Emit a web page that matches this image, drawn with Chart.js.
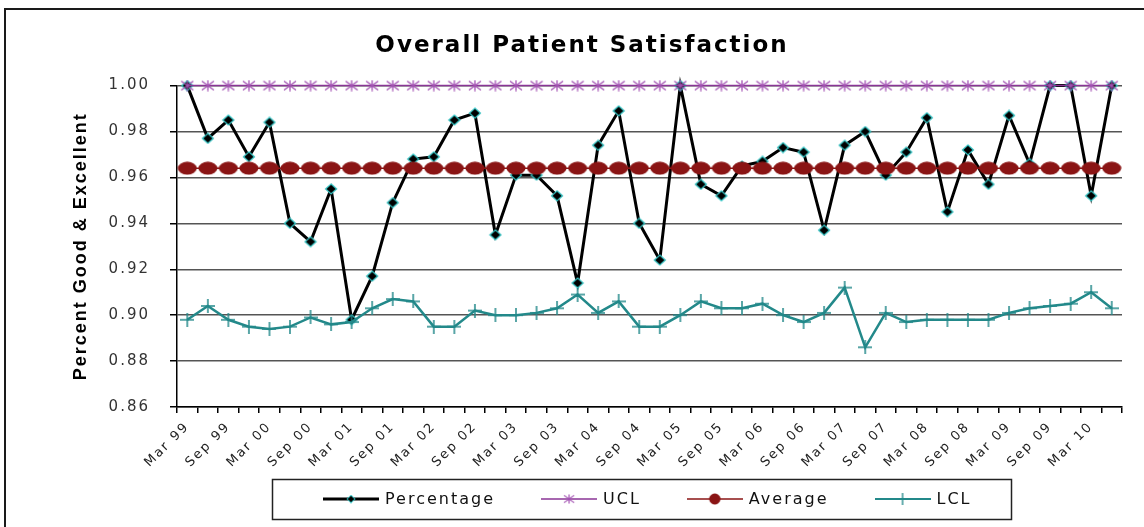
<!DOCTYPE html>
<html>
<head>
<meta charset="utf-8">
<title>Overall Patient Satisfaction</title>
<script src="https://cdn.jsdelivr.net/npm/chart.js@4.4.0/dist/chart.umd.min.js"></script>
<style>
  html, body { margin: 0; padding: 0; background: #fff; }
</style>
</head>
<body>
<canvas id="satisfaction-chart" width="1144" height="527"></canvas>
<script>
// Quarterly periods, Mar 99 .. Jun 10
const quarters = [
  'Mar 99', 'Jun 99', 'Sep 99', 'Dec 99', 'Mar 00', 'Jun 00', 'Sep 00', 'Dec 00',
  'Mar 01', 'Jun 01', 'Sep 01', 'Dec 01', 'Mar 02', 'Jun 02', 'Sep 02', 'Dec 02',
  'Mar 03', 'Jun 03', 'Sep 03', 'Dec 03', 'Mar 04', 'Jun 04', 'Sep 04', 'Dec 04',
  'Mar 05', 'Jun 05', 'Sep 05', 'Dec 05', 'Mar 06', 'Jun 06', 'Sep 06', 'Dec 06',
  'Mar 07', 'Jun 07', 'Sep 07', 'Dec 07', 'Mar 08', 'Jun 08', 'Sep 08', 'Dec 08',
  'Mar 09', 'Jun 09', 'Sep 09', 'Dec 09', 'Mar 10', 'Jun 10'
];

const percentage = [
  1.000, 0.977, 0.985, 0.969, 0.984, 0.940, 0.932, 0.955, 0.898, 0.917,
  0.949, 0.968, 0.969, 0.985, 0.988, 0.935, 0.961, 0.961, 0.952, 0.914,
  0.974, 0.989, 0.940, 0.924, 1.000, 0.957, 0.952, 0.965, 0.967, 0.973,
  0.971, 0.937, 0.974, 0.980, 0.961, 0.971, 0.986, 0.945, 0.972, 0.957,
  0.987, 0.966, 1.000, 1.000, 0.952, 1.000
];

const ucl = [
  1.00, 1.00, 1.00, 1.00, 1.00, 1.00, 1.00, 1.00, 1.00, 1.00,
  1.00, 1.00, 1.00, 1.00, 1.00, 1.00, 1.00, 1.00, 1.00, 1.00,
  1.00, 1.00, 1.00, 1.00, 1.00, 1.00, 1.00, 1.00, 1.00, 1.00,
  1.00, 1.00, 1.00, 1.00, 1.00, 1.00, 1.00, 1.00, 1.00, 1.00,
  1.00, 1.00, 1.00, 1.00, 1.00, 1.00
];

const average = [
  0.964, 0.964, 0.964, 0.964, 0.964, 0.964, 0.964, 0.964, 0.964, 0.964,
  0.964, 0.964, 0.964, 0.964, 0.964, 0.964, 0.964, 0.964, 0.964, 0.964,
  0.964, 0.964, 0.964, 0.964, 0.964, 0.964, 0.964, 0.964, 0.964, 0.964,
  0.964, 0.964, 0.964, 0.964, 0.964, 0.964, 0.964, 0.964, 0.964, 0.964,
  0.964, 0.964, 0.964, 0.964, 0.964, 0.964
];

const lcl = [
  0.898, 0.904, 0.898, 0.895, 0.894, 0.895, 0.899, 0.896, 0.897, 0.903,
  0.907, 0.906, 0.895, 0.895, 0.902, 0.900, 0.900, 0.901, 0.903, 0.909,
  0.901, 0.906, 0.895, 0.895, 0.900, 0.906, 0.903, 0.903, 0.905, 0.900,
  0.897, 0.901, 0.912, 0.886, 0.901, 0.897, 0.898, 0.898, 0.898, 0.898,
  0.901, 0.903, 0.904, 0.905, 0.910, 0.903
];

const yMin = 0.86;
const yMax = 1.00;
const yStep = 0.02;

// Small canvases used as point markers (Excel style)
function makeMarker(w, h, draw) {
  const c = document.createElement('canvas');
  c.width = w;
  c.height = h;
  draw(c.getContext('2d'), w, h);
  return c;
}

const diamond = makeMarker(14, 12, (ctx, w, h) => {
  ctx.beginPath();
  ctx.moveTo(w / 2, 1);
  ctx.lineTo(w - 1.5, h / 2);
  ctx.lineTo(w / 2, h - 1);
  ctx.lineTo(1.5, h / 2);
  ctx.closePath();
  ctx.fillStyle = '#000';
  ctx.fill();
  ctx.strokeStyle = '#33c4c4';
  ctx.lineWidth = 1.2;
  ctx.stroke();
});

const star = makeMarker(14, 12, (ctx, w, h) => {
  ctx.strokeStyle = '#a352b3';
  ctx.lineWidth = 1.3;
  ctx.beginPath();
  ctx.moveTo(w / 2, 0.5); ctx.lineTo(w / 2, h - 0.5);
  ctx.moveTo(1, 1.5); ctx.lineTo(w - 1, h - 1.5);
  ctx.moveTo(1, h - 1.5); ctx.lineTo(w - 1, 1.5);
  ctx.stroke();
});

const dot = makeMarker(20, 14, (ctx, w, h) => {
  ctx.beginPath();
  ctx.ellipse(w / 2, h / 2, w / 2 - 0.5, h / 2 - 0.5, 0, 0, Math.PI * 2);
  ctx.fillStyle = '#8a1414';
  ctx.fill();
});

const plus = makeMarker(14, 14, (ctx, w, h) => {
  ctx.strokeStyle = '#23898a';
  ctx.lineWidth = 1.5;
  ctx.beginPath();
  ctx.moveTo(0, h / 2); ctx.lineTo(w, h / 2);
  ctx.moveTo(w / 2, 0); ctx.lineTo(w / 2, h);
  ctx.stroke();
});

// Legend samples: a short line with the marker in the middle
function legendSample(color, width, marker, mw, mh) {
  return makeMarker(56, 16, (ctx, w, h) => {
    ctx.strokeStyle = color;
    ctx.lineWidth = width;
    ctx.beginPath();
    ctx.moveTo(0, h / 2);
    ctx.lineTo(w, h / 2);
    ctx.stroke();
    ctx.drawImage(marker, (w - mw) / 2, (h - mh) / 2, mw, mh);
  });
}

const samples = {
  'Percentage': legendSample('#000', 3, diamond, 10, 9),
  'UCL': legendSample('#8a3596', 1.5, star, 12, 10),
  'Average': legendSample('#8a1414', 1.5, dot, 12, 12),
  'LCL': legendSample('#23898a', 2, plus, 12, 12)
};

// Wider letter spacing like the original picture
const letterSpacing = {
  id: 'letterSpacing',
  beforeUpdate(chart) { chart.ctx.letterSpacing = '2px'; },
  beforeDraw(chart) { chart.ctx.letterSpacing = '2px'; }
};

// Boxed legend under the axis and the outer frame
const boxedLegend = {
  id: 'boxedLegend',
  afterDraw(chart) {
    const ctx = chart.ctx;
    ctx.save();
    ctx.letterSpacing = '2px';
    ctx.font = '16px "DejaVu Sans"';
    ctx.textBaseline = 'middle';
    ctx.fillStyle = '#111';

    const sampleW = 56, textGap = 6, itemGap = 46, padL = 51, padR = 39;
    const items = chart.data.datasets.map(ds => ({
      label: ds.label,
      w: ctx.measureText(ds.label).width
    }));
    let boxW = padL + padR + itemGap * (items.length - 1);
    items.forEach(it => { boxW += sampleW + textGap + it.w; });

    const centerX = 641, top = 479, bottom = 519;
    const left = Math.round(centerX - boxW / 2);
    const midY = (top + bottom) / 2;

    ctx.strokeStyle = '#222';
    ctx.lineWidth = 1.5;
    ctx.strokeRect(left + 0.5, top + 0.5, Math.round(boxW), bottom - top);

    let x = left + padL;
    items.forEach(it => {
      ctx.drawImage(samples[it.label], x, midY - 8);
      x += sampleW + textGap;
      ctx.fillText(it.label, x, midY + 1);
      x += it.w + itemGap;
    });

    // frame around the whole picture
    ctx.strokeStyle = '#1a1a1a';
    ctx.lineWidth = 2;
    ctx.strokeRect(5, 9, 1160, 600);
    ctx.restore();
  }
};

function renderChart() {
  const ctx = document.getElementById('satisfaction-chart').getContext('2d');

  new Chart(ctx, {
    type: 'line',
    data: {
      labels: quarters,
      datasets: [
        {
          label: 'Percentage',
          data: percentage,
          borderColor: '#000',
          borderWidth: 3,
          pointStyle: diamond,
          pointRadius: 6,
          pointHoverRadius: 6,
          order: 4,
          clip: false
        },
        {
          label: 'UCL',
          data: ucl,
          borderColor: '#8a3596',
          borderWidth: 1.5,
          pointStyle: star,
          pointRadius: 6,
          pointHoverRadius: 6,
          order: 3,
          clip: false
        },
        {
          label: 'Average',
          data: average,
          borderColor: '#8a1414',
          borderWidth: 1.5,
          pointStyle: dot,
          pointRadius: 6,
          pointHoverRadius: 6,
          order: 2,
          clip: false
        },
        {
          label: 'LCL',
          data: lcl,
          borderColor: '#23898a',
          borderWidth: 2.5,
          pointStyle: plus,
          pointRadius: 6,
          pointHoverRadius: 6,
          order: 1,
          clip: false
        }
      ]
    },
    options: {
      responsive: false,
      animation: false,
      devicePixelRatio: 1,
      layout: {
        padding: { left: 42, right: 22, top: 0, bottom: 0 }
      },
      plugins: {
        legend: { display: false },
        tooltip: { enabled: false },
        title: {
          display: true,
          text: 'Overall Patient Satisfaction',
          color: '#000',
          font: { family: 'DejaVu Sans', size: 23, weight: 'bold' },
          padding: { top: 32, bottom: 26 }
        }
      },
      scales: {
        x: {
          offset: true,
          grid: {
            offset: true,
            drawOnChartArea: false,
            tickLength: 6,
            tickColor: '#000',
            lineWidth: 1.5
          },
          border: { color: '#000', width: 1.5 },
          ticks: {
            autoSkip: false,
            maxRotation: 45,
            minRotation: 45,
            padding: 6,
            color: '#222',
            font: { family: 'DejaVu Sans', size: 13 },
            callback: function (value, index) {
              return index % 2 === 0 ? this.getLabelForValue(value) : '';
            }
          },
          afterFit(scale) { scale.height = 120; }
        },
        y: {
          min: yMin,
          max: yMax,
          ticks: {
            stepSize: yStep,
            padding: 20,
            color: '#333',
            font: { family: 'DejaVu Sans', size: 15 },
            callback: value => value.toFixed(2)
          },
          grid: {
            color: '#555',
            lineWidth: 1.5,
            tickLength: 7,
            tickColor: '#000'
          },
          border: { color: '#000', width: 1.5 },
          title: {
            display: true,
            text: 'Percent Good & Excellent',
            color: '#000',
            font: { family: 'Liberation Sans', size: 18, weight: 'bold' },
            padding: { top: 28, bottom: 0 }
          },
          afterFit(scale) { scale.width = 135; }
        }
      }
    },
    plugins: [letterSpacing, boxedLegend]
  });
}

window.onload = renderChart;
</script>
</body>
</html>
